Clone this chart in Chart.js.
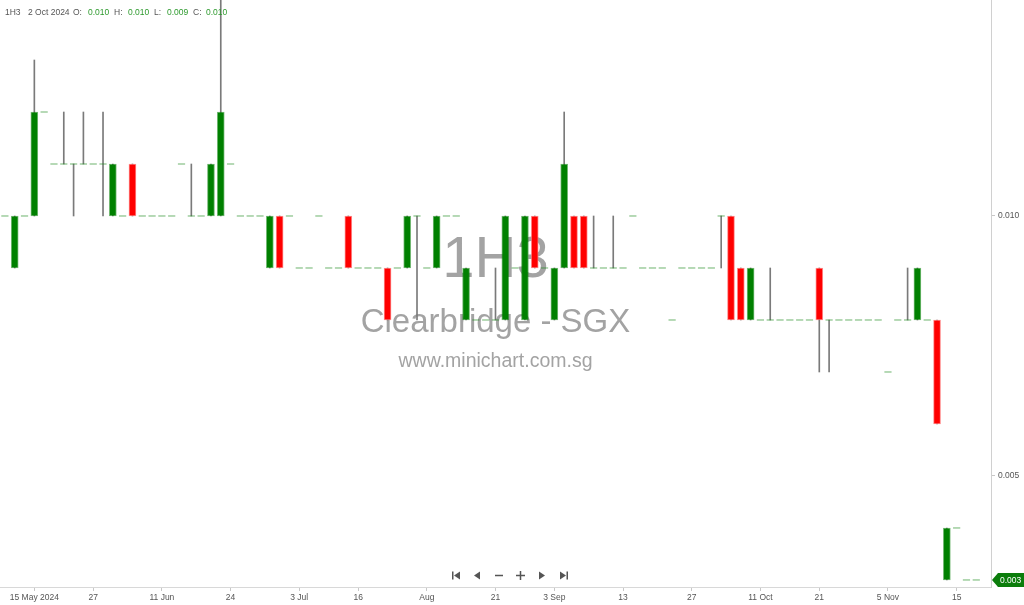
<!DOCTYPE html>
<html>
<head>
<meta charset="utf-8">
<title>1H3 - Clearbridge - SGX</title>
<script src="https://cdn.jsdelivr.net/npm/chart.js@4.4.1/dist/chart.umd.min.js"></script>
<style>
  html, body { margin: 0; padding: 0; background: #fff; }
  #wrap { width: 1024px; height: 605px; }
</style>
</head>
<body>
<div id="wrap"><canvas id="chart" width="1024" height="605"></canvas></div>
<script>
// Daily OHLC for 1H3 (only the days with trades), oldest first
const opens = [
    0.010, 0.009, 0.010, 0.010, 0.012, 0.011, 0.011, 0.011, 0.011, 0.011,
    0.011, 0.010, 0.010, 0.011, 0.010, 0.010, 0.010, 0.010, 0.011, 0.010,
    0.010, 0.010, 0.010, 0.011, 0.010, 0.010, 0.010, 0.009, 0.010, 0.010,
    0.009, 0.009, 0.010, 0.009, 0.009, 0.010, 0.009, 0.009, 0.009, 0.009,
    0.009, 0.009, 0.010, 0.009, 0.009, 0.010, 0.010, 0.008, 0.008, 0.008,
    0.008, 0.008, 0.009, 0.008, 0.010, 0.009, 0.008, 0.009, 0.010, 0.010,
    0.009, 0.009, 0.009, 0.009, 0.010, 0.009, 0.009, 0.009, 0.008, 0.009,
    0.009, 0.009, 0.009, 0.010, 0.010, 0.009, 0.008, 0.008, 0.008, 0.008,
    0.008, 0.008, 0.008, 0.009, 0.008, 0.008, 0.008, 0.008, 0.008, 0.008,
    0.007, 0.008, 0.008, 0.008, 0.008, 0.008, 0.003, 0.004, 0.003, 0.003
];
const highs = [
    0.010, 0.010, 0.010, 0.013, 0.012, 0.011, 0.012, 0.011, 0.012, 0.011,
    0.012, 0.011, 0.010, 0.011, 0.010, 0.010, 0.010, 0.010, 0.011, 0.011,
    0.010, 0.011, 0.015, 0.011, 0.010, 0.010, 0.010, 0.010, 0.010, 0.010,
    0.009, 0.009, 0.010, 0.009, 0.009, 0.010, 0.009, 0.009, 0.009, 0.009,
    0.009, 0.010, 0.010, 0.009, 0.010, 0.010, 0.010, 0.009, 0.008, 0.008,
    0.009, 0.010, 0.009, 0.010, 0.010, 0.009, 0.009, 0.012, 0.010, 0.010,
    0.010, 0.009, 0.010, 0.009, 0.010, 0.009, 0.009, 0.009, 0.008, 0.009,
    0.009, 0.009, 0.009, 0.010, 0.010, 0.009, 0.009, 0.008, 0.009, 0.008,
    0.008, 0.008, 0.008, 0.009, 0.008, 0.008, 0.008, 0.008, 0.008, 0.008,
    0.007, 0.008, 0.009, 0.009, 0.008, 0.008, 0.004, 0.004, 0.003, 0.003
];
const lows = [
    0.010, 0.009, 0.010, 0.010, 0.012, 0.011, 0.011, 0.010, 0.011, 0.011,
    0.010, 0.010, 0.010, 0.010, 0.010, 0.010, 0.010, 0.010, 0.011, 0.010,
    0.010, 0.010, 0.010, 0.011, 0.010, 0.010, 0.010, 0.009, 0.009, 0.010,
    0.009, 0.009, 0.010, 0.009, 0.009, 0.009, 0.009, 0.009, 0.009, 0.008,
    0.009, 0.009, 0.008, 0.009, 0.009, 0.010, 0.010, 0.008, 0.008, 0.008,
    0.008, 0.008, 0.009, 0.008, 0.009, 0.009, 0.008, 0.009, 0.009, 0.009,
    0.009, 0.009, 0.009, 0.009, 0.010, 0.009, 0.009, 0.009, 0.008, 0.009,
    0.009, 0.009, 0.009, 0.009, 0.008, 0.008, 0.008, 0.008, 0.008, 0.008,
    0.008, 0.008, 0.008, 0.007, 0.007, 0.008, 0.008, 0.008, 0.008, 0.008,
    0.007, 0.008, 0.008, 0.008, 0.008, 0.006, 0.003, 0.004, 0.003, 0.003
];
const closes = [
    0.010, 0.010, 0.010, 0.012, 0.012, 0.011, 0.011, 0.011, 0.011, 0.011,
    0.011, 0.011, 0.010, 0.010, 0.010, 0.010, 0.010, 0.010, 0.011, 0.010,
    0.010, 0.011, 0.012, 0.011, 0.010, 0.010, 0.010, 0.010, 0.009, 0.010,
    0.009, 0.009, 0.010, 0.009, 0.009, 0.009, 0.009, 0.009, 0.009, 0.008,
    0.009, 0.010, 0.010, 0.009, 0.010, 0.010, 0.010, 0.009, 0.008, 0.008,
    0.008, 0.010, 0.009, 0.010, 0.009, 0.009, 0.009, 0.011, 0.009, 0.009,
    0.009, 0.009, 0.009, 0.009, 0.010, 0.009, 0.009, 0.009, 0.008, 0.009,
    0.009, 0.009, 0.009, 0.010, 0.008, 0.008, 0.009, 0.008, 0.008, 0.008,
    0.008, 0.008, 0.008, 0.008, 0.008, 0.008, 0.008, 0.008, 0.008, 0.008,
    0.007, 0.008, 0.008, 0.009, 0.008, 0.006, 0.004, 0.004, 0.003, 0.003
];

// date labels shown under the chart (candle number, 1 = first candle)
const tickIdx  = [4, 10, 17, 24, 31, 37, 44, 51, 57, 64, 71, 78, 84, 91, 98];
const tickText = ['15 May 2024', '27', '11 Jun', '24', '3 Jul', '16', 'Aug', '21',
                  '3 Sep', '13', '27', '11 Oct', '21', '5 Nov', '15'];
const priceTicks = [0.005, 0.010];

// the bar shown in the header
const header = { symbol: '1H3', date: '2 Oct 2024', o: 0.010, h: 0.010, l: 0.009, c: 0.010 };

const GREEN = '#008000';
const RED = '#ff0000';
const FONT = 'Liberation Sans, Arial, sans-serif';

// 1. Build the three layers: wicks, bodies and flat (open == close) dashes
const wicks = [];
const bodies = [];
const bodyColors = [];
const bodyBorders = [];
const flats = [];
closes.forEach((c, i) => {
    const x = i + 1;
    if (highs[i] > lows[i]) wicks.push({ x: x, y: [lows[i], highs[i]] });
    if (opens[i] !== c) {
        bodies.push({ x: x, y: [opens[i], c] });
        bodyColors.push(c > opens[i] ? GREEN : RED);
        bodyBorders.push(c > opens[i] ? 'rgba(0,128,0,0.55)' : 'rgba(255,110,110,0.8)');
    } else {
        flats.push({ x: x, y: c });
    }
});

// 2. Watermark, header, navigation icons and last price tag
const decorations = {
    id: 'decorations',
    beforeDatasetsDraw: (chart) => {
        const ctx = chart.ctx;
        const cx = (chart.chartArea.left + chart.chartArea.right) / 2;
        ctx.save();
        ctx.fillStyle = '#a3a3a3';
        ctx.textAlign = 'center';
        ctx.textBaseline = 'alphabetic';
        ctx.font = '58px ' + FONT;
        ctx.fillText(header.symbol, cx, 277);
        ctx.font = '33px ' + FONT;
        ctx.fillText('Clearbridge - SGX', cx, 332);
        ctx.font = '19.5px ' + FONT;
        ctx.fillText('www.minichart.com.sg', cx, 367);
        ctx.restore();
    },
    afterDraw: (chart) => {
        const ctx = chart.ctx;
        const area = chart.chartArea;
        ctx.save();

        // header line
        ctx.font = '8.5px ' + FONT;
        ctx.textBaseline = 'middle';
        ctx.textAlign = 'left';
        const parts = [
            [header.symbol, 5, '#555'], [header.date, 28, '#555'],
            ['O:', 73, '#555'], [header.o.toFixed(3), 88, '#2e9a2e'],
            ['H:', 114, '#555'], [header.h.toFixed(3), 128, '#2e9a2e'],
            ['L:', 154, '#555'], [header.l.toFixed(3), 167, '#2e9a2e'],
            ['C:', 193, '#555'], [header.c.toFixed(3), 206, '#2e9a2e']
        ];
        parts.forEach(([t, x, col]) => {
            ctx.fillStyle = col;
            ctx.fillText(t, x, 13);
        });

        // navigation buttons |< < - + > >|
        const ny = 575.5;
        ctx.fillStyle = '#555';
        ctx.strokeStyle = '#555';
        ctx.lineWidth = 1.5;
        const tri = (x, dir) => {
            ctx.beginPath();
            ctx.moveTo(x, ny - 4);
            ctx.lineTo(x + dir * 6, ny);
            ctx.lineTo(x, ny + 4);
            ctx.closePath();
            ctx.fill();
        };
        ctx.fillRect(452, ny - 4, 1.5, 8);
        tri(460, -1);
        tri(480, -1);
        ctx.beginPath();
        ctx.moveTo(495, ny); ctx.lineTo(503, ny);
        ctx.moveTo(516, ny); ctx.lineTo(525, ny);
        ctx.moveTo(520.5, ny - 4.5); ctx.lineTo(520.5, ny + 4.5);
        ctx.stroke();
        tri(539, 1);
        tri(560, 1);
        ctx.fillRect(566.5, ny - 4, 1.5, 8);

        // last price tag on the price axis
        const last = closes[closes.length - 1];
        const py = chart.scales.y.getPixelForValue(last);
        const tx = area.right + 1;
        ctx.fillStyle = '#0b7d0b';
        ctx.beginPath();
        ctx.moveTo(tx, py);
        ctx.lineTo(tx + 6, py - 7);
        ctx.lineTo(chart.width, py - 7);
        ctx.lineTo(chart.width, py + 7);
        ctx.lineTo(tx + 6, py + 7);
        ctx.closePath();
        ctx.fill();
        ctx.fillStyle = '#fff';
        ctx.font = '8.5px ' + FONT;
        ctx.fillText(last.toFixed(3), tx + 8, py + 0.5);

        ctx.restore();
    }
};

// 3. Chart
const config = {
    type: 'bar',
    data: {
        datasets: [
            {
                // open == close days
                type: 'line',
                data: flats,
                showLine: false,
                pointStyle: 'line',
                pointRadius: 3.6,
                pointBorderWidth: 1,
                pointBorderColor: 'rgba(30,140,30,0.65)',
                order: 0
            },
            {
                data: bodies,
                backgroundColor: bodyColors,
                borderColor: bodyBorders,
                borderWidth: 1,
                borderSkipped: false,
                barThickness: 7,
                grouped: false,
                order: 1
            },
            {
                data: wicks,
                backgroundColor: '#7a7a7a',
                barThickness: 1,
                grouped: false,
                order: 2
            }
        ]
    },
    options: {
        responsive: false,
        animation: false,
        events: [],
        layout: { padding: 0, autoPadding: false },
        plugins: {
            legend: { display: false },
            tooltip: { enabled: false }
        },
        scales: {
            x: {
                type: 'linear',
                offset: false,
                min: 0.5,
                max: closes.length + 1.5,
                afterBuildTicks: (scale) => {
                    scale.ticks = tickIdx.map(v => ({ value: v }));
                },
                afterFit: (scale) => {
                    scale.height = 18;
                    scale.paddingLeft = 0;
                    scale.paddingRight = 0;
                },
                ticks: {
                    autoSkip: false,
                    maxRotation: 0,
                    padding: 2,
                    color: '#555',
                    font: { family: FONT, size: 8.5 },
                    callback: (v) => tickText[tickIdx.indexOf(v)]
                },
                grid: { offset: false, drawOnChartArea: false, tickLength: 4, color: '#c8c8c8' },
                border: { color: '#d8d8d8' }
            },
            y: {
                position: 'right',
                min: 0.002865,
                max: 0.014154,
                afterBuildTicks: (scale) => {
                    scale.ticks = priceTicks.map(v => ({ value: v }));
                },
                afterFit: (scale) => {
                    scale.width = 33;
                    scale.paddingTop = 0;
                    scale.paddingBottom = 0;
                },
                ticks: {
                    padding: 3,
                    color: '#555',
                    font: { family: FONT, size: 8.5 },
                    callback: (v) => v.toFixed(3)
                },
                grid: { drawOnChartArea: false, tickLength: 4, color: '#c8c8c8' },
                border: { color: '#d0d0d0' }
            }
        }
    },
    plugins: [decorations]
};

new Chart(document.getElementById('chart'), config);
</script>
</body>
</html>
